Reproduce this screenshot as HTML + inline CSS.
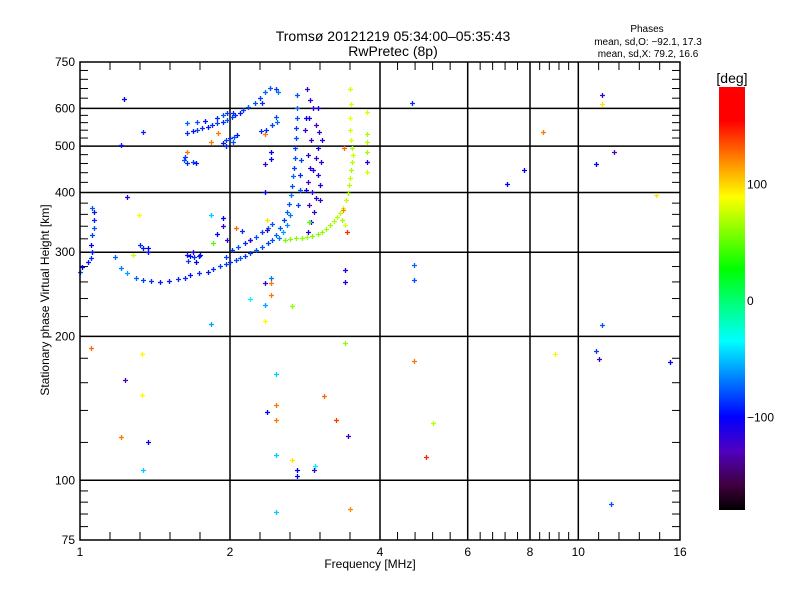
<!DOCTYPE html>
<html><head><meta charset="utf-8"><style>
body{margin:0;background:#fff;}
svg text{font-family:"Liberation Sans",sans-serif;fill:#000;}
</style></head><body>
<svg id="chart" width="800" height="600" xmlns="http://www.w3.org/2000/svg">
<defs><linearGradient id="cb" x1="0" y1="0" x2="0" y2="1">
<stop offset="0" stop-color="#ff0000"/><stop offset="0.08" stop-color="#ff0000"/>
<stop offset="0.19" stop-color="#ffa000"/><stop offset="0.26" stop-color="#ffff00"/>
<stop offset="0.43" stop-color="#00ff00"/><stop offset="0.60" stop-color="#00ffff"/>
<stop offset="0.78" stop-color="#0000ff"/><stop offset="0.86" stop-color="#5000c0"/>
<stop offset="0.94" stop-color="#400040"/><stop offset="1" stop-color="#000000"/>
</linearGradient></defs>
<text x="393" y="41" font-size="14" text-anchor="middle">Tromsø 20121219 05:34:00–05:35:43</text>
<text x="393" y="56" font-size="14" text-anchor="middle">RwPretec (8p)</text>
<text x="647" y="32" font-size="10" text-anchor="middle">Phases</text>
<text x="648" y="45" font-size="10" text-anchor="middle">mean, sd,O: −92.1, 17.3</text>
<text x="648" y="57" font-size="10" text-anchor="middle">mean, sd,X:  79.2, 16.6</text>
<text transform="translate(49,300) rotate(-90)" font-size="12" text-anchor="middle">Stationary phase Virtual Height [km]</text>
<text x="370" y="568" font-size="12" text-anchor="middle">Frequency [MHz]</text>
<g id="grid"></g>
<g id="marks"></g>
<rect x="80" y="62" width="600" height="478" fill="none" stroke="#000" stroke-width="1.5"/>
<rect x="719" y="87" width="26" height="423" fill="url(#cb)"/>
<text x="732" y="83" font-size="14" text-anchor="middle">[deg]</text>
<g id="cbticks"></g>
</svg>
<script>
const xMajor=[1,2,4,6,8,10,16];
const yMajor=[75,100,200,300,400,500,600,750];
const yLabels=["75","100","200","300","400","500","600","750"];
const cbValues=[100,0,-100];
const freq=[1.23,1.27,1.31,1.37,1.42,1.47,1.53,1.59,1.65,1.70,1.73,1.79,1.85,1.89,1.93,1.97,2.0,2.08,2.13,2.2,2.27,2.35,2.43,2.51,2.56,2.61,2.67,2.72,2.76,2.79,2.81,2.83,2.84,2.85,2.87,2.87,2.88,2.88,2.89,2.89,2.89,2.71,2.65,2.76,2.8,2.91,2.93,2.93,2.95,
3.03,3.07,3.11,3.05,3.15,3.19,3.08,3.17,3.04,3.15,3.21,3.07,3.17,3.04,3.2,3.09,3.15,3.05,3.12,3.08,3.04,3.01,3.17,3.23,3.0,3.11,3.01,3.2,
2.73,2.8,2.88,2.96,3.03,3.09,3.17,3.23,3.28,3.33,3.39,3.43,3.47,3.51,3.55,3.57,3.59,3.6,3.61,3.63,3.64,3.63,3.61,3.6,3.6,3.61,3.6,3.53,3.49,3.83,3.83,3.83,3.83,3.83,3.83,3.05,3.52,3.56,3.51,
1.71,1.75,1.78,1.81,1.85,1.88,1.91,1.95,1.98,2.03,2.07,2.13,2.17,2.24,1.71,1.78,1.83,1.91,1.95,1.98,2.04,1.69,1.71,1.75,1.77,1.7,1.95,1.97,2.0,2.05,2.09,1.97,2.04,2.33,2.4,2.47,2.53,2.61,2.64,2.43,2.63,2.61,2.56,2.48,1.29,1.42,1.27,
1.01,1.05,1.07,1.08,1.07,1.08,1.09,1.09,1.09,1.08,1.0,1.4,1.42,1.45,1.45,1.71,1.73,1.76,1.79,1.72,1.77,1.8,1.75,1.97,2.03,2.11,2.2,2.27,2.35,2.43,2.51,2.56,
1.07,1.41,1.3,1.41,1.27,1.45,1.42,2.27,2.47,2.55,2.83,2.47,1.87,2.61,3.25,2.61,2.49,2.61,3.41,3.57,3.53,4.77,5.2,5.04,2.61,2.83,3.13,2.89,2.89,3.12,2.61,3.6,9.04,11.06,11.24,15.4,11.4,11.9,4.77,4.77,3.53,3.53,2.47,2.55,2.55,4.73,8.54,7.81,7.26,11.4,11.4,11.06,12.1,14.6,
1.71,1.87,1.92,2.47,2.41,2.55,2.55,2.47,2.47,1.31,1.39,1.87,1.95,1.95,2.08,2.16,1.89,1.91,1.98,2.27,2.49,2.49,1.35];
const height=[293,278,272,265,262,261,260,261,264,265,269,272,273,277,281,284,286,289,292,294,299,303,308,313,318,326,337,351,365,378,395,413,433,450,472,496,520,546,573,601,640,330,321,342,359,376,405,435,468,
660,625,601,573,554,535,516,496,479,472,463,450,435,421,415,401,390,376,365,347,330,573,601,516,540,445,405,386,
318,320,321,321,323,325,328,330,335,342,348,355,362,371,386,399,415,429,445,463,479,496,516,540,573,613,658,342,350,589,530,510,486,463,441,347,496,330,367,
533,537,540,546,549,554,559,561,566,575,580,586,594,603,559,561,564,572,580,586,586,468,460,463,460,474,508,516,521,523,528,501,510,616,632,648,662,660,650,616,561,575,554,540,627,535,503,
280,286,292,300,311,326,337,351,365,371,273,311,306,306,300,296,294,293,294,288,286,296,301,293,303,308,313,318,323,330,337,344,
189,184,162,151,123,120,105,240,233,244,232,215,212,167,150,144,139,134,134,124,194,178,132,112,113,110,107,105,102,105,86,87,184,186,179,177,211,89,262,282,275,260,259,259,265,616,535,446,416,640,613,459,486,395,
486,510,532,530,538,486,470,459,401,392,359,359,354,340,337,332,313,328,318,318,351,334,296];
const phase=[-75,-70,-60,-75,-85,-90,-95,-95,-90,-90,-95,-90,-95,-90,-85,-85,-90,-85,-80,-85,-85,-80,-80,-85,-80,-75,-80,-85,-75,-80,-70,-80,-75,-85,-80,-85,-80,-85,-80,-75,-80,-60,-70,-65,-70,-85,-80,-90,-85,
-120,-115,-120,-110,-125,-115,-120,-110,-115,-120,-115,-120,-115,-125,-110,-120,-115,-125,-120,-115,-110,-100,-110,-115,-120,-110,-105,-120,
55,58,62,60,65,55,60,62,66,64,68,72,70,76,74,66,70,74,66,70,76,68,80,76,84,80,76,80,66,80,66,70,66,-110,76,45,130,150,120,
-90,-95,-85,-90,-95,-90,-85,-90,-80,-85,-90,-95,-85,-80,-75,-80,-95,-90,-80,-85,-90,-80,-90,-85,-95,-85,-95,-85,-90,-80,-95,-90,-80,-80,-85,-75,-80,-85,-70,-90,-75,-80,-85,-90,-105,-90,-95,
-100,-95,-90,-95,-100,-85,-80,-90,-95,-80,-80,-90,-95,-100,-95,-95,-100,-90,-95,-85,-100,-95,-110,-85,-90,-80,-90,-85,-80,-85,-75,-80,
130,90,-130,90,125,-100,-50,-40,-60,125,60,90,-60,-50,130,125,-100,125,145,-120,60,125,70,150,-50,95,-40,-100,-100,-120,-50,120,90,-85,-120,-100,-80,-80,-80,-75,-110,-110,-120,125,-70,-90,125,-100,-100,-120,95,-100,-130,95,
125,125,125,125,-90,-100,-100,-120,-100,-110,85,-50,-100,-120,130,-90,45,-100,-120,-120,95,-120,75];

const L=80,R=680,T=62,B=540;
const xPx=[80,230,380,467.7,530,578.3,680];
function xScale(f){
  for(let i=0;i<xMajor.length-1;i++){
    if(f<=xMajor[i+1]||i===xMajor.length-2){
      const t=(f-xMajor[i])/(xMajor[i+1]-xMajor[i]);
      return xPx[i]+t*(xPx[i+1]-xPx[i]);
    }
  }
}
function yScale(h){return B-(B-T)*Math.log10(h/75);}
const stops=[[180,[255,0,0]],[150,[255,40,0]],[112,[255,160,0]],[88,[255,255,0]],[27,[0,255,0]],[-37,[0,255,255]],[-100,[0,0,255]],[-128,[80,0,192]],[-160,[64,0,64]],[-180,[0,0,0]]];
function phaseColor(p){
  for(let i=0;i<stops.length-1;i++){
    const a=stops[i],b=stops[i+1];
    if(p<=a[0]&&p>=b[0]){const t=(a[0]-p)/(a[0]-b[0]);
      const c=a[1].map((v,k)=>Math.round(v+t*(b[1][k]-v)));return `rgb(${c.join(',')})`;}
  }
  return '#000';
}
const NS='http://www.w3.org/2000/svg';
const grid=document.getElementById('grid');
function line(parent,x1,y1,x2,y2,w,name){
  const l=document.createElementNS(NS,'line');
  l.setAttribute('x1',x1);l.setAttribute('y1',y1);l.setAttribute('x2',x2);l.setAttribute('y2',y2);
  l.setAttribute('stroke','#000');l.setAttribute('stroke-width',w);
  
  
  parent.appendChild(l);
}
function text(parent,x,y,s,anchor,name,size){
  const t=document.createElementNS(NS,'text');
  t.setAttribute('x',x);t.setAttribute('y',y);t.setAttribute('font-size',size||12);t.setAttribute('text-anchor',anchor);
  t.textContent=s;
  
  
  parent.appendChild(t);
}
xMajor.forEach((f,i)=>{
  const x=xScale(f);
  if(i>0&&i<xMajor.length-1) line(grid,x,T,x,B,1.5,'x-gridline');
  text(grid,x,556,String(f),'middle','x-tick-label');
  if(i<xMajor.length-1){
    for(let k=1;k<5;k++){
      const fx=xScale(f+k*(xMajor[i+1]-f)/5);
      line(grid,fx,B,fx,B-8,1,'x-minor-tick');
      line(grid,fx,T,fx,T+8,1,'x-minor-tick');
    }
  }
});
yMajor.forEach((h,i)=>{
  const y=yScale(h);
  if(i>0&&i<yMajor.length-1) line(grid,L,y,R,y,1.5,'y-gridline');
  text(grid,75,y+4,yLabels[i],'end','y-tick-label');
  if(i<yMajor.length-1){
    for(let k=1;k<5;k++){
      const fy=yScale(h+k*(yMajor[i+1]-h)/5);
      line(grid,L,fy,L+8,fy,1,'y-minor-tick');
      line(grid,R,fy,R-8,fy,1,'y-minor-tick');
    }
  }
});
const marks=document.getElementById('marks');
for(let i=0;i<freq.length;i++){
  const x=Math.round(xScale(freq[i]))+0.5,y=Math.round(yScale(height[i]))+0.5;
  const p=document.createElementNS(NS,'path');
  p.setAttribute('d',`M${x-2.5},${y}H${x+2.5}M${x},${y-2.5}V${y+2.5}`);
  p.setAttribute('stroke',phaseColor(phase[i]));p.setAttribute('stroke-width','1.3');p.setAttribute('fill','none');
  
  
  marks.appendChild(p);
}
const cb=document.getElementById('cbticks');
cbValues.forEach(v=>{
  const y=300-v*1.165;
  text(cb,747,y+5,v<0?'−'+Math.abs(v):String(v),'start','colorbar-label');
});
</script>
</body></html>
